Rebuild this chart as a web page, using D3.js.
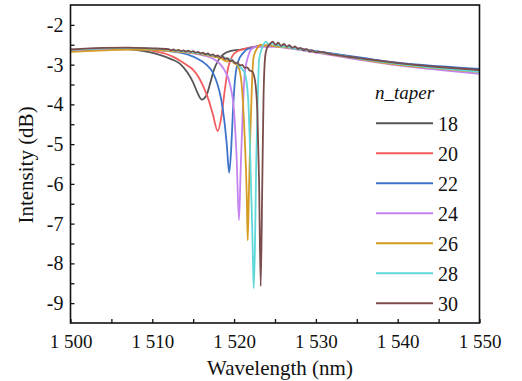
<!DOCTYPE html>
<html>
<head>
<meta charset="utf-8">
<script src="https://cdn.jsdelivr.net/npm/d3@7"></script>
<style>
  html, body { margin: 0; padding: 0; background: #fff; }
  svg { display: block; }
</style>
</head>
<body>
<svg id="chart" width="522" height="381"></svg>
<script>
// Transmission spectra for different taper lengths (wavelength nm, intensity dB)
const nTaper = ["18", "20", "22", "24", "26", "28", "30"];
const colors = ["#555555", "#f25c5c", "#3d74c9", "#c483f0", "#d59b22", "#5ed8d8", "#7b4c4c"];

const xMajorTicks = [1500, 1510, 1520, 1530, 1540, 1550];
const xTickLabels = ["1 500", "1 510", "1 520", "1 530", "1 540", "1 550"];
const xMinorTicks = [1505, 1515, 1525, 1535, 1545];
const yMajorTicks = [-2, -3, -4, -5, -6, -7, -8, -9];
const yTickLabels = ["-2", "-3", "-4", "-5", "-6", "-7", "-8", "-9"];
const yMinorTicks = [-2.5, -3.5, -4.5, -5.5, -6.5, -7.5, -8.5];

const series18 = [
  [1500, -2.64], [1503, -2.61], [1506, -2.6], [1508, -2.63], [1509.5, -2.68],
  [1511, -2.76], [1512.3, -2.86], [1513.4, -2.98], [1514.3, -3.2], [1515, -3.45],
  [1515.5, -3.7], [1516.05, -3.88], [1516.6, -3.78], [1517.1, -3.45], [1517.5, -3.15],
  [1518.1, -2.88], [1518.7, -2.74], [1519.5, -2.66], [1520.5, -2.63], [1521.5, -2.6],
  [1522.5, -2.56], [1523.5, -2.52], [1525, -2.53], [1527, -2.57], [1530, -2.67],
  [1533, -2.77], [1536, -2.86], [1540, -2.97], [1545, -3.07], [1550, -3.16]
];
const series20 = [
  [1500, -2.64], [1503, -2.6], [1506, -2.59], [1508, -2.6], [1510, -2.65],
  [1511.5, -2.72], [1512.5, -2.8], [1513.4, -2.9], [1514.3, -3.02], [1515, -3.13],
  [1515.7, -3.33], [1516.3, -3.58], [1516.9, -3.9], [1517.4, -4.25], [1518.0, -4.67],
  [1518.45, -4.3], [1518.9, -3.58], [1519.3, -3.05], [1519.8, -2.78], [1520.4, -2.66],
  [1521.2, -2.61], [1522.5, -2.55], [1523.5, -2.52], [1525, -2.53], [1527, -2.57],
  [1530, -2.66], [1533, -2.76], [1536, -2.85], [1540, -2.96], [1545, -3.07], [1550, -3.17]
];
const series22 = [
  [1500, -2.65], [1504, -2.61], [1507, -2.6], [1510, -2.62], [1512, -2.66],
  [1513.4, -2.7], [1515, -2.8], [1516.6, -3.0], [1517.4, -3.2], [1517.9, -3.45],
  [1518.4, -3.85], [1518.8, -4.4], [1519.1, -5.0], [1519.4, -5.72], [1519.65, -5.1],
  [1519.85, -4.2], [1520.1, -3.4], [1520.5, -2.92], [1521.1, -2.71], [1521.7, -2.6],
  [1522.3, -2.57], [1523, -2.54], [1525, -2.53], [1527, -2.57], [1530, -2.66],
  [1533, -2.75], [1536, -2.84], [1540, -2.95], [1545, -3.04], [1550, -3.11]
];
const series24 = [
  [1500, -2.66], [1504, -2.62], [1507, -2.6], [1510, -2.62], [1513.4, -2.68],
  [1515.8, -2.75], [1517.5, -2.86], [1518.7, -3.1], [1519.5, -3.5], [1520.0, -4.2],
  [1520.3, -5.3], [1520.6, -6.91], [1520.8, -5.65], [1521.05, -4.22], [1521.3, -3.22],
  [1521.7, -2.8], [1522.15, -2.6], [1522.6, -2.56], [1523, -2.55], [1525, -2.55],
  [1527, -2.6], [1530, -2.7], [1533, -2.8], [1536, -2.9], [1540, -3.02],
  [1545, -3.13], [1550, -3.23]
];
const series26 = [
  [1500, -2.68], [1504, -2.64], [1507, -2.62], [1510, -2.63], [1513.4, -2.68],
  [1516, -2.74], [1517.5, -2.8], [1518.5, -2.85], [1519.1, -2.92], [1519.5, -2.89],
  [1519.9, -2.95], [1520.5, -3.05], [1520.9, -3.45], [1521.25, -4.64], [1521.55, -6.32],
  [1521.66, -7.42], [1521.8, -6.32], [1522.0, -4.64], [1522.2, -3.39], [1522.4, -2.8],
  [1522.85, -2.58], [1523.2, -2.5], [1523.6, -2.53], [1524, -2.51], [1525, -2.54],
  [1527, -2.58], [1530, -2.68], [1533, -2.78], [1536, -2.88], [1540, -3.0],
  [1545, -3.1], [1550, -3.19]
];
const series28 = [
  [1500, -2.63], [1504, -2.59], [1507, -2.58], [1510, -2.6], [1513.4, -2.66],
  [1516, -2.72], [1518.3, -2.8], [1518.8, -2.82], [1519.2, -2.86], [1519.6, -2.87],
  [1519.9, -2.93], [1520.3, -2.96], [1520.7, -3.05], [1521.3, -3.22], [1521.7, -3.8],
  [1522.0, -5.48], [1522.27, -7.58], [1522.4, -8.63], [1522.55, -7.58], [1522.7, -5.48],
  [1522.9, -3.8], [1523.05, -2.88], [1523.4, -2.59], [1523.9, -2.43], [1524.3, -2.5],
  [1524.7, -2.46], [1525.05, -2.52], [1525.4, -2.5], [1525.8, -2.55], [1526.2, -2.54],
  [1527, -2.58], [1530, -2.67], [1533, -2.77], [1536, -2.87], [1540, -2.98],
  [1545, -3.09], [1550, -3.18]
];
const series30 = [
  [1500, -2.62], [1504, -2.58], [1507, -2.57], [1510, -2.59], [1512.0, -2.61],
  [1512.3, -2.64], [1512.6, -2.62], [1512.9, -2.65], [1513.2, -2.63], [1513.5, -2.66],
  [1513.8, -2.64], [1514.1, -2.67], [1514.4, -2.65], [1514.7, -2.68], [1515.0, -2.66],
  [1515.3, -2.7], [1515.6, -2.68], [1515.9, -2.72], [1516.2, -2.7], [1516.5, -2.74],
  [1516.8, -2.72], [1517.1, -2.76], [1517.4, -2.74], [1517.7, -2.79], [1518.0, -2.77],
  [1518.3, -2.82], [1518.6, -2.8], [1518.9, -2.86], [1519.2, -2.84], [1519.5, -2.91],
  [1519.8, -2.89], [1520.1, -2.96], [1520.4, -2.95], [1520.7, -3.02], [1521.0, -3.01],
  [1521.3, -3.08], [1521.6, -3.07], [1521.9, -3.15], [1522.2, -3.17], [1522.55, -3.39],
  [1522.85, -4.22], [1523.05, -5.9], [1523.25, -8.57], [1523.45, -5.9], [1523.6, -3.8],
  [1523.8, -2.8], [1524.0, -2.59], [1524.4, -2.48], [1524.72, -2.42], [1525.05, -2.5],
  [1525.4, -2.45], [1525.75, -2.53], [1526.1, -2.48], [1526.45, -2.55], [1526.75, -2.51],
  [1527.1, -2.58], [1527.45, -2.54], [1527.8, -2.61], [1528.15, -2.58], [1528.5, -2.64],
  [1528.9, -2.61], [1529.25, -2.67], [1529.6, -2.65], [1530.0, -2.69], [1530.4, -2.68],
  [1532, -2.74], [1535, -2.83], [1540, -2.96], [1545, -3.06], [1550, -3.13]
];
const allSeries = [series18, series20, series22, series24, series26, series28, series30];

const fontFamily = "'Liberation Serif', 'Times New Roman', Times, 'DejaVu Serif', serif";

const svg = d3.select("#chart");
const plot = { left: 70.5, right: 479.5, top: 5, bottom: 323 };

const x = d3.scaleLinear().domain([1500, 1550]).range([plot.left, plot.right]);
const y = d3.scaleLinear().domain([-9.5, -1.5]).range([plot.bottom, plot.top]);

svg.append("defs").append("clipPath").attr("id", "plot-clip")
  .append("rect")
  .attr("x", plot.left).attr("y", plot.top)
  .attr("width", plot.right - plot.left).attr("height", plot.bottom - plot.top);

// Spectra
const line = d3.line()
  .x(d => x(d[0]))
  .y(d => y(d[1]))
  .curve(d3.curveMonotoneX);

svg.append("g").attr("clip-path", "url(#plot-clip)")
  .selectAll("path")
  .data(allSeries)
  .join("path")
  .attr("d", line)
  .attr("fill", "none")
  .attr("stroke", (d, i) => colors[i])
  .attr("stroke-width", 1.8)
  .attr("stroke-linejoin", "round");

// Axes with inward ticks
const xAxis = d3.axisBottom(x)
  .tickValues(xMajorTicks)
  .tickFormat((d, i) => xTickLabels[i])
  .tickSizeInner(-4).tickSizeOuter(0);
const gx = svg.append("g").attr("transform", `translate(0,${plot.bottom})`).call(xAxis)
  .attr("font-family", fontFamily);
gx.select(".domain").remove();
gx.selectAll("line").attr("stroke", "#111").attr("stroke-width", 1.3);
gx.selectAll("text").attr("font-family", fontFamily).attr("font-size", 19)
  .attr("fill", "#111").attr("dy", null).attr("y", 25);

const xMinor = d3.axisBottom(x).tickValues(xMinorTicks).tickFormat("").tickSizeInner(-4).tickSizeOuter(0);
const gxm = svg.append("g").attr("transform", `translate(0,${plot.bottom})`).call(xMinor);
gxm.select(".domain").remove();
gxm.selectAll("line").attr("stroke", "#111").attr("stroke-width", 1.3);

const yAxis = d3.axisLeft(y)
  .tickValues(yMajorTicks)
  .tickFormat((d, i) => yTickLabels[i])
  .tickSizeInner(-4).tickSizeOuter(0);
const gy = svg.append("g").attr("transform", `translate(${plot.left},0)`).call(yAxis)
  .attr("font-family", fontFamily);
gy.select(".domain").remove();
gy.selectAll("line").attr("stroke", "#111").attr("stroke-width", 1.3);
gy.selectAll("text").attr("font-family", fontFamily).attr("font-size", 20)
  .attr("fill", "#111").attr("x", -7);

const yMinor = d3.axisLeft(y).tickValues(yMinorTicks).tickFormat("").tickSizeInner(-4).tickSizeOuter(0);
const gym = svg.append("g").attr("transform", `translate(${plot.left},0)`).call(yMinor);
gym.select(".domain").remove();
gym.selectAll("line").attr("stroke", "#111").attr("stroke-width", 1.3);

// Frame
svg.append("rect")
  .attr("x", plot.left).attr("y", plot.top)
  .attr("width", plot.right - plot.left).attr("height", plot.bottom - plot.top)
  .attr("fill", "none").attr("stroke", "#111").attr("stroke-width", 1.6);

// Axis titles
svg.append("text")
  .attr("x", (plot.left + plot.right) / 2 + 5).attr("y", 375)
  .attr("text-anchor", "middle").attr("font-size", 21)
  .attr("font-family", fontFamily).attr("fill", "#111")
  .text("Wavelength (nm)");
svg.append("text")
  .attr("transform", `translate(33,${165}) rotate(-90)`)
  .attr("text-anchor", "middle").attr("font-size", 21)
  .attr("font-family", fontFamily).attr("fill", "#111")
  .text("Intensity (dB)");

// Legend
const legend = svg.append("g");
legend.append("text")
  .attr("x", 375).attr("y", 99)
  .attr("font-size", 19).attr("font-style", "italic")
  .attr("font-family", fontFamily).attr("fill", "#111")
  .text("n_taper");
const items = legend.selectAll("g.item")
  .data(nTaper)
  .join("g").attr("class", "item")
  .attr("transform", (d, i) => `translate(0,${123.3 + i * 30})`);
items.append("line")
  .attr("x1", 376).attr("x2", 433).attr("y1", 0).attr("y2", 0)
  .attr("stroke", (d, i) => colors[i]).attr("stroke-width", 2);
items.append("text")
  .attr("x", 438).attr("y", 7.5)
  .attr("font-size", 20)
  .attr("font-family", fontFamily).attr("fill", "#111")
  .text(d => d);
</script>
</body>
</html>
